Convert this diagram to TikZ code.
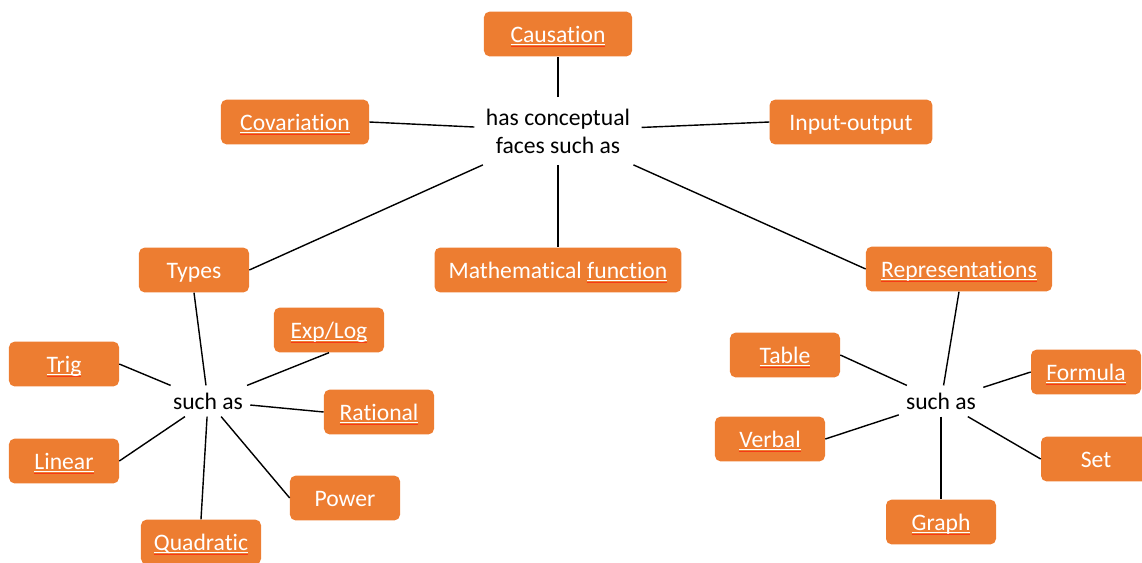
\documentclass[tikz,border=0pt]{standalone}
\usepackage{fontspec}
\setmainfont{Carlito}[Ligatures=NoCommon]
\usepackage{tikz}
\usetikzlibrary{positioning}

\definecolor{officeorange}{HTML}{ED7D31}

% white link underline with the red spell-check mark below it
\newcommand{\marked}[1]{\setbox0\hbox{#1}%
  \rlap{\rule[-0.11em]{\wd0}{0.045em}}%
  \rlap{\textcolor{red!55!officeorange}{\rule[-0.18em]{\wd0}{0.03em}}}\box0}

\begin{document}
\begin{tikzpicture}[
  x=0.025cm, y=-0.025cm,
  block/.style={rectangle, rounded corners=4pt, fill=officeorange,
                text=white, minimum height=1.12cm, minimum width=2.75cm,
                text height=13pt, text depth=1pt,
                inner sep=2pt, align=center, font=\fontsize{16.8}{20}\selectfont},
  hub/.style={align=center, inner sep=8pt, font=\fontsize{16.8}{20}\selectfont},
  link/.style={line width=1pt, black},
]
  \useasboundingbox (0,0) rectangle (1142,562);

  % centre of the map
  \node[hub] (faces) at (558,131) {has conceptual\\faces such as};
  \node[block, minimum width=3.7cm]   (causation) at (558,34)  {\marked{Causation}};
  \node[block, minimum width=3.7cm]   (covar)     at (295,122) {\marked{Covariation}};
  \node[block, minimum width=4.07cm]  (inout)     at (851,122) {Input-output};
  \node[block]                        (types)     at (194,270) {Types};
  \node[block, minimum width=6.17cm]  (mathfn)    at (558,270) {Mathematical \marked{function}};
  \node[block, minimum width=4.65cm]  (repr)      at (959,269) {\marked{Representations}};

  % types
  \node[hub, inner sep=5pt] (typesuch) at (208,401) {such as};
  \node[block] (explog)    at (329,330) {\marked{Exp/Log}};
  \node[block] (trig)      at (64,364)  {\marked{Trig}};
  \node[block] (rational)  at (379,412) {\marked{Rational}};
  \node[block] (linear)    at (64,461)  {\marked{Linear}};
  \node[block] (power)     at (345,498) {Power};
  \node[block, minimum width=3cm] (quadratic) at (201,542) {\marked{Quadratic}};

  % representations
  \node[hub, inner sep=5pt] (reprsuch) at (941,401) {such as};
  \node[block] (table)   at (785,355)  {\marked{Table}};
  \node[block] (formula) at (1086,372) {\marked{Formula}};
  \node[block] (verbal)  at (770,439)  {\marked{Verbal}};
  \node[block] (set)     at (1096,459) {Set};
  \node[block] (graph)   at (941,522)  {\marked{Graph}};

  \draw[link] (faces) -- (causation.south);
  \draw[link] (faces) -- (covar.east);
  \draw[link] (faces) -- (inout.west);
  \draw[link] (faces) -- (types.east);
  \draw[link] (faces) -- (mathfn.north);
  \draw[link] (faces) -- (repr.west);

  \draw[link] (types.south) -- (typesuch);
  \draw[link] (typesuch) -- (explog.south);
  \draw[link] (typesuch) -- (trig.east);
  \draw[link] (typesuch) -- (rational.west);
  \draw[link] (typesuch) -- (linear.east);
  \draw[link] (typesuch) -- (power.west);
  \draw[link] (typesuch) -- (quadratic.north);

  \draw[link] (repr.south) -- (reprsuch);
  \draw[link] (reprsuch) -- (table.east);
  \draw[link] (reprsuch) -- (formula.west);
  \draw[link] (reprsuch) -- (verbal.east);
  \draw[link] (reprsuch) -- (set.west);
  \draw[link] (reprsuch) -- (graph.north);
\end{tikzpicture}
\end{document}
